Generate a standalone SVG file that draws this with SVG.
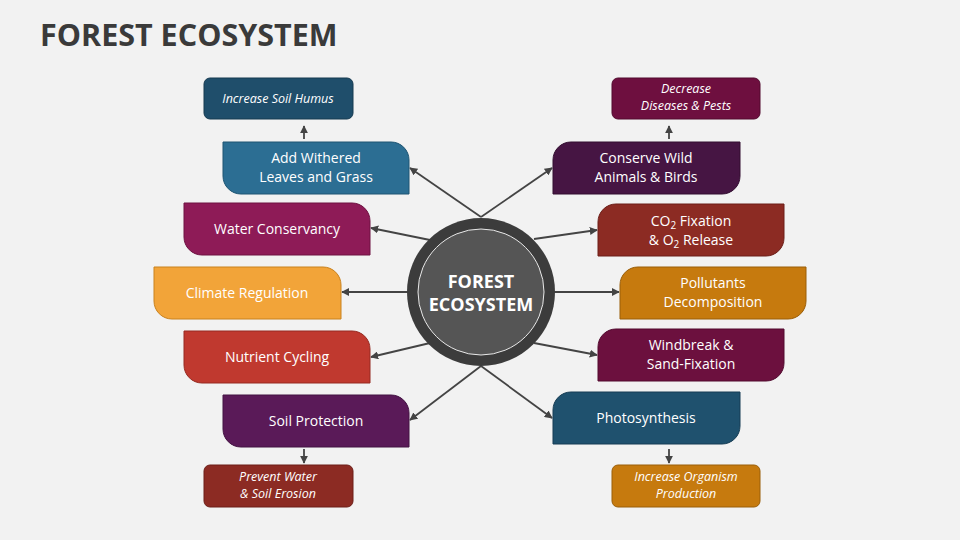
<svg xmlns="http://www.w3.org/2000/svg" width="960" height="540" viewBox="0 0 960 540">
<defs>
<marker id="ah" viewBox="0 0 10 10" refX="9" refY="5" markerWidth="8" markerHeight="8" markerUnits="userSpaceOnUse" orient="auto">
<path d="M0,0 L10,5 L0,10 Z" fill="#444"/>
</marker>
</defs>
<style>
.t{font-family:"Open Sans","Liberation Sans",sans-serif;font-size:14px;font-weight:500;fill:#fff;text-anchor:middle}
.s{font-family:"Open Sans","Liberation Sans",sans-serif;font-size:12.5px;font-style:italic;font-weight:500;fill:#fff;text-anchor:middle}
.c{stroke:#444;stroke-width:1.8;fill:none;marker-end:url(#ah)}
.sub{font-size:10px}
</style>
<rect width="960" height="540" fill="#F2F2F2"/>
<text x="40" y="46" font-family="'Open Sans','Liberation Sans',sans-serif" font-size="30.5" font-weight="bold" fill="#3A3A3A">FOREST ECOSYSTEM</text>

<g id="connectors">
<line class="c" x1="481" y1="217" x2="410" y2="168"/>
<line class="c" x1="481" y1="217" x2="552" y2="168"/>
<line class="c" x1="430" y1="240" x2="371" y2="228"/>
<line class="c" x1="410" y1="292" x2="342" y2="292"/>
<line class="c" x1="430" y1="343" x2="371" y2="357"/>
<line class="c" x1="481" y1="366" x2="410" y2="420"/>
<line class="c" x1="481" y1="366" x2="552" y2="418"/>
<line class="c" x1="534" y1="239" x2="597" y2="230"/>
<line class="c" x1="553" y1="292" x2="619" y2="292"/>
<line class="c" x1="534" y1="343" x2="597" y2="355"/>
<line class="c" x1="304" y1="139" x2="304" y2="126"/>
<line class="c" x1="669" y1="139" x2="669" y2="126"/>
<line class="c" x1="304" y1="449" x2="304" y2="463"/>
<line class="c" x1="669" y1="449" x2="669" y2="463"/>
</g>

<g id="center">
<circle cx="481" cy="292" r="74" fill="#3C3C3C"/>
<circle cx="481" cy="292" r="63" fill="#555555" stroke="#E8E8E8" stroke-width="1"/>
<text x="481" y="288" font-family="'Open Sans','Liberation Sans',sans-serif" font-size="18" font-weight="bold" fill="#fff" text-anchor="middle">FOREST</text>
<text x="481" y="311" font-family="'Open Sans','Liberation Sans',sans-serif" font-size="18" font-weight="bold" fill="#fff" text-anchor="middle">ECOSYSTEM</text>
</g>

<g id="add-withered">
<path d="M223,142 H391 A18,18 0 0 1 409,160 V194 H241 A18,18 0 0 1 223,176 Z" fill="#2C6E93" stroke="#1E5573" stroke-width="1"/>
<text class="t" x="316" y="163">Add Withered</text>
<text class="t" x="316" y="182">Leaves and Grass</text>
</g>
<g id="water">
<path d="M184,203 H352 A18,18 0 0 1 370,221 V255 H202 A18,18 0 0 1 184,237 Z" fill="#8E1B57" stroke="#6E1242" stroke-width="1"/>
<text class="t" x="277" y="234">Water Conservancy</text>
</g>
<g id="climate">
<path d="M154,267 H323 A18,18 0 0 1 341,285 V319 H172 A18,18 0 0 1 154,301 Z" fill="#F2A439" stroke="#C9821F" stroke-width="1"/>
<text class="t" x="247" y="298">Climate Regulation</text>
</g>
<g id="nutrient">
<path d="M184,331 H352 A18,18 0 0 1 370,349 V383 H202 A18,18 0 0 1 184,365 Z" fill="#C0392F" stroke="#962B22" stroke-width="1"/>
<text class="t" x="277" y="362">Nutrient Cycling</text>
</g>
<g id="soil">
<path d="M223,395 H391 A18,18 0 0 1 409,413 V447 H241 A18,18 0 0 1 223,429 Z" fill="#5A1A58" stroke="#421242" stroke-width="1"/>
<text class="t" x="316" y="426">Soil Protection</text>
</g>

<g id="conserve">
<path d="M571,142 H740 V176 A18,18 0 0 1 722,194 H553 V160 A18,18 0 0 1 571,142 Z" fill="#461543" stroke="#320E30" stroke-width="1"/>
<text class="t" x="646" y="163">Conserve Wild</text>
<text class="t" x="646" y="182">Animals &amp; Birds</text>
</g>
<g id="co2">
<path d="M616,204 H784 V238 A18,18 0 0 1 766,256 H598 V222 A18,18 0 0 1 616,204 Z" fill="#8C2B23" stroke="#6C1F19" stroke-width="1"/>
<text class="t" x="691" y="226">CO<tspan class="sub" dy="3">2</tspan><tspan dy="-3"> Fixation</tspan></text>
<text class="t" x="691" y="245">&amp; O<tspan class="sub" dy="3">2</tspan><tspan dy="-3"> Release</tspan></text>
</g>
<g id="pollutants">
<path d="M638,267 H806 V301 A18,18 0 0 1 788,319 H620 V285 A18,18 0 0 1 638,267 Z" fill="#C67A0E" stroke="#9A5E08" stroke-width="1"/>
<text class="t" x="713" y="288">Pollutants</text>
<text class="t" x="713" y="307">Decomposition</text>
</g>
<g id="windbreak">
<path d="M616,329 H784 V363 A18,18 0 0 1 766,381 H598 V347 A18,18 0 0 1 616,329 Z" fill="#6C103E" stroke="#520B2F" stroke-width="1"/>
<text class="t" x="691" y="350">Windbreak &amp;</text>
<text class="t" x="691" y="369">Sand-Fixation</text>
</g>
<g id="photosynthesis">
<path d="M571,392 H740 V426 A18,18 0 0 1 722,444 H553 V410 A18,18 0 0 1 571,392 Z" fill="#1F516E" stroke="#173D54" stroke-width="1"/>
<text class="t" x="646" y="423">Photosynthesis</text>
</g>

<g id="humus">
<rect x="204" y="78" width="149" height="41" rx="6" fill="#1F4E6B" stroke="#163A50" stroke-width="1"/>
<text class="s" x="278" y="103">Increase Soil Humus</text>
</g>
<g id="diseases">
<rect x="612" y="78" width="148" height="41" rx="6" fill="#6E0F3F" stroke="#520B2F" stroke-width="1"/>
<text class="s" x="686" y="93">Decrease</text>
<text class="s" x="686" y="110">Diseases &amp; Pests</text>
</g>
<g id="erosion">
<rect x="204" y="465" width="149" height="42" rx="6" fill="#8C2B23" stroke="#6C1F19" stroke-width="1"/>
<text class="s" x="278" y="481">Prevent Water</text>
<text class="s" x="278" y="498">&amp; Soil Erosion</text>
</g>
<g id="organism">
<rect x="612" y="465" width="148" height="42" rx="6" fill="#C67A0E" stroke="#9A5E08" stroke-width="1"/>
<text class="s" x="686" y="481">Increase Organism</text>
<text class="s" x="686" y="498">Production</text>
</g>
</svg>
